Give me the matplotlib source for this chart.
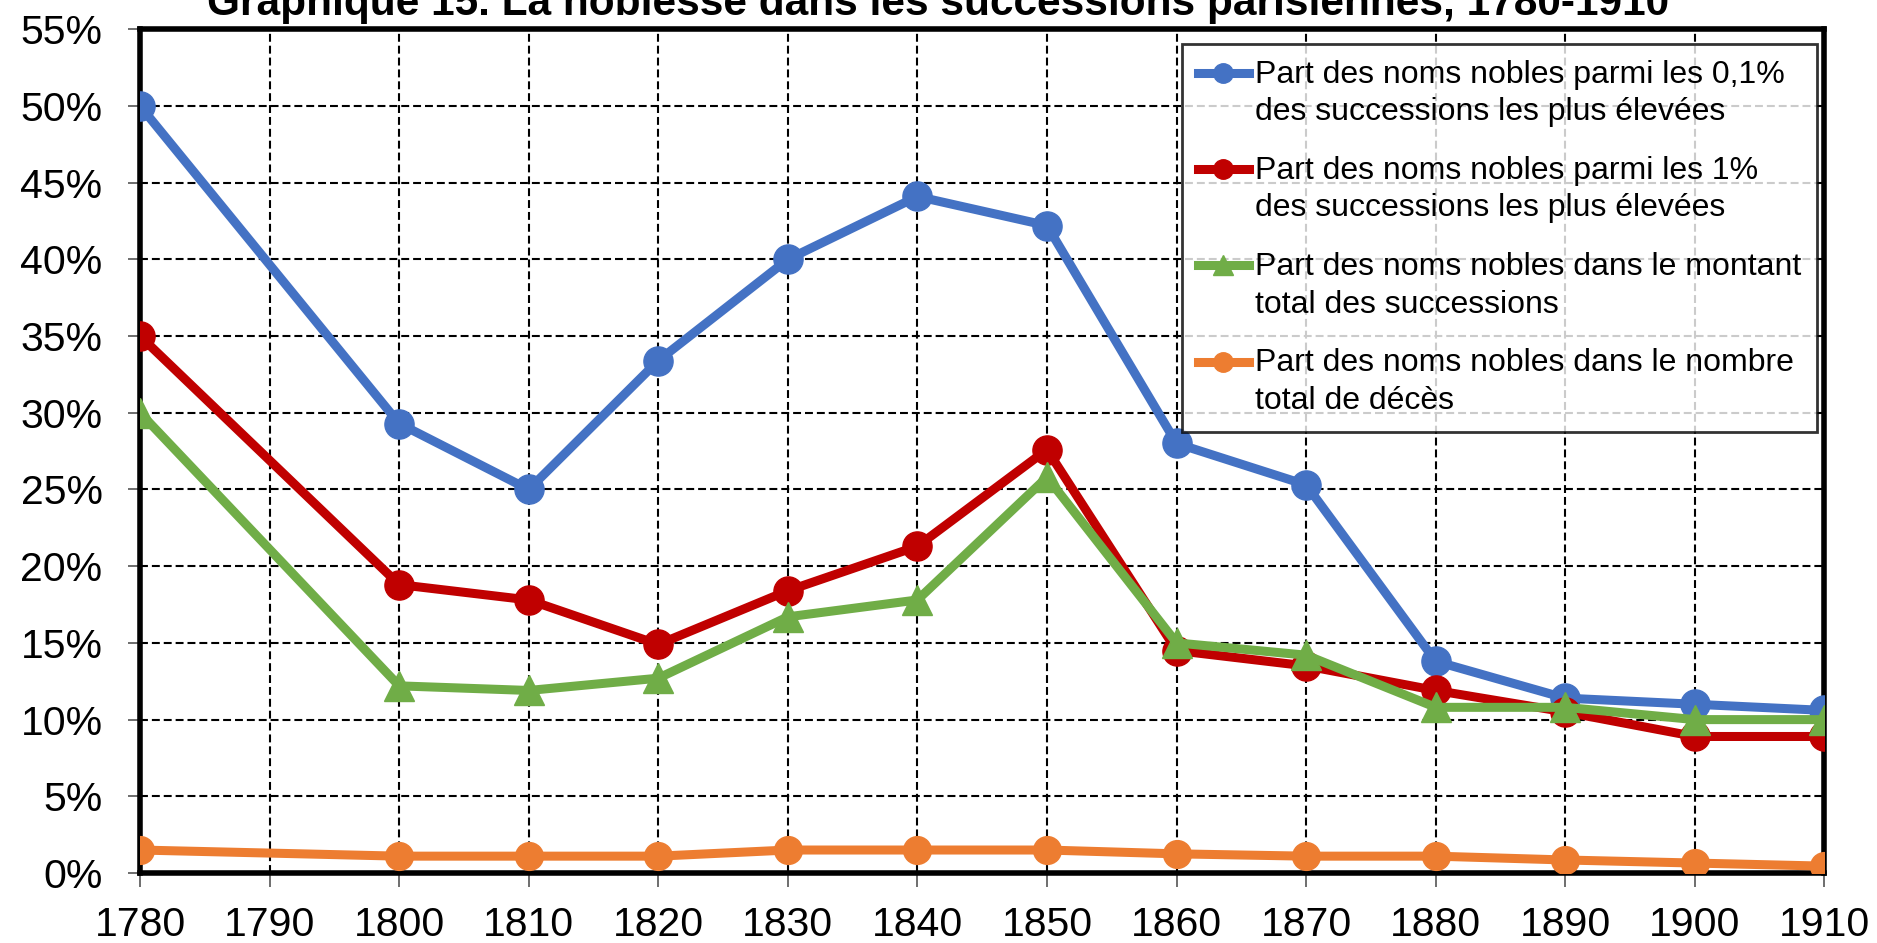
import numpy as np
import matplotlib.pyplot as plt
from matplotlib.legend_handler import HandlerLine2D

plt.rcParams['font.family'] = ['Liberation Sans', 'DejaVu Sans']

annees = [1780, 1800, 1810, 1820, 1830, 1840, 1850, 1860, 1870, 1880, 1890, 1900, 1910]
ticks_annees = [1780, 1790, 1800, 1810, 1820, 1830, 1840, 1850, 1860, 1870, 1880, 1890, 1900, 1910]

top01 = [50.0, 29.3, 25.0, 33.4, 40.0, 44.1, 42.2, 28.0, 25.3, 13.8, 11.4, 11.0, 10.6]
top1 = [35.0, 18.8, 17.8, 14.9, 18.4, 21.3, 27.6, 14.5, 13.5, 11.9, 10.5, 8.9, 8.9]
montant = [30.0, 12.2, 11.9, 12.7, 16.7, 17.8, 25.8, 15.0, 14.2, 10.8, 10.8, 10.0, 10.0]
deces = [1.5, 1.1, 1.1, 1.1, 1.5, 1.5, 1.5, 1.25, 1.1, 1.1, 0.85, 0.65, 0.45]

labels = ["Part des noms nobles parmi les 0,1%\ndes successions les plus élevées",
          "Part des noms nobles parmi les 1%\ndes successions les plus élevées",
          "Part des noms nobles dans le montant\ntotal des successions",
          "Part des noms nobles dans le nombre\ntotal de décès"]


# poignee de legende alignee sur la premiere ligne du texte
class HandlerHaut(HandlerLine2D):
    def create_artists(self, legend, orig_handle, xdescent, ydescent, width, height, fontsize, trans):
        arts = super().create_artists(legend, orig_handle, xdescent, ydescent, width, height, fontsize, trans)
        for a in arts:
            a.set_ydata(np.asarray(a.get_ydata()) + 0.65 * fontsize)
        return arts


fig = plt.figure(figsize=(18.77, 9.43), dpi=100)
ax = fig.add_axes([0.0746, 0.0742, 0.8974, 0.8948])

ax.plot(annees, top01, color='#4472C4', lw=6.5, marker='o', ms=21, label=labels[0], zorder=5)
ax.plot(annees, top1, color='#C00000', lw=6.5, marker='o', ms=21, label=labels[1], zorder=5)
ax.plot(annees, montant, color='#70AD47', lw=6.5, marker='^', ms=21, label=labels[2], zorder=5)
ax.plot(annees, deces, color='#ED7D31', lw=6.5, marker='o', ms=20, label=labels[3], zorder=5)

ax.set_xlim(1780, 1910)
ax.set_ylim(0, 55)
ax.set_xticks(ticks_annees)
ax.set_yticks(np.arange(0, 56, 5))
ax.set_yticklabels([f"{v}%" for v in range(0, 56, 5)])
ax.tick_params(labelsize=29.5, width=1.2, color='#555555')
ax.tick_params(axis='x', length=10, pad=14)
ax.tick_params(axis='y', length=9, pad=18)
ax.grid(True, color='black', ls=(0, (3.8, 1.9)), lw=1.5)
for s in ax.spines.values():
    s.set_linewidth(4)
    s.set_color('black')

leg = ax.legend(loc='upper right', bbox_to_anchor=(0.9958, 0.9825), fontsize=23,
                frameon=True, fancybox=False, handlelength=1.6, handletextpad=0.2,
                labelspacing=0.9, borderpad=0.5, borderaxespad=0,
                handler_map={plt.Line2D: HandlerHaut()})
for t in leg.get_texts():
    t.set_linespacing(1.32)
leg.get_frame().set_edgecolor('black')
leg.get_frame().set_linewidth(2)
for h in leg.legend_handles:
    h.set_markersize(14)
leg.set_zorder(10)

fig.text(0.5, 0.984, "Graphique 15. La noblesse dans les successions parisiennes, 1780-1910",
         ha='center', va='baseline', fontsize=30.5, fontweight='bold')

fig.savefig('out.png', dpi=100)
